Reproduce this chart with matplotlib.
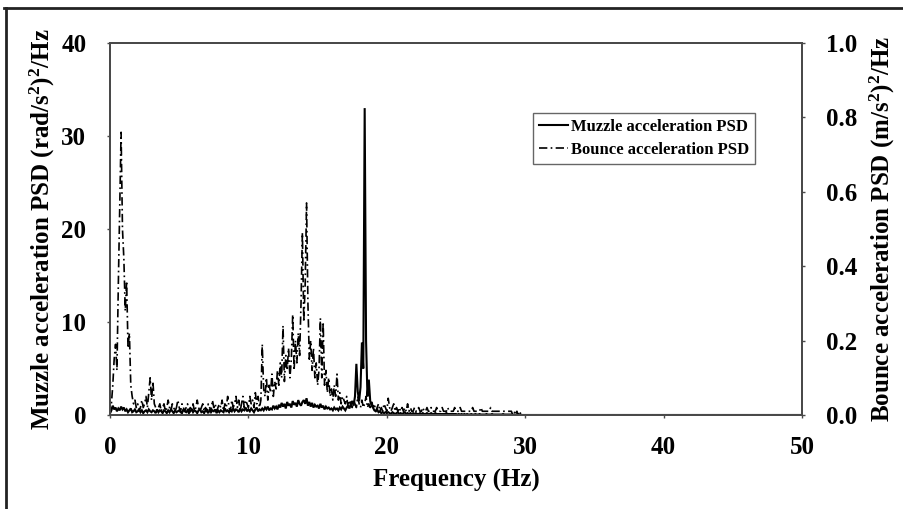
import numpy as np
import matplotlib
matplotlib.use("Agg")
import matplotlib.pyplot as plt
from matplotlib.lines import Line2D

# ---- data: PSD sampled every 0.1 Hz from 0 to 29.9 Hz (one row per Hz) ----
bounce_rows = [
    [0.00, 0.03, 0.08, 0.15, 0.19, 0.12, 0.35, 0.55, 0.76, 0.50],
    [0.42, 0.28, 0.36, 0.18, 0.22, 0.08, 0.05, 0.03, 0.04, 0.02],
    [0.03, 0.01, 0.02, 0.04, 0.02, 0.03, 0.05, 0.02, 0.06, 0.10],
    [0.04, 0.09, 0.03, 0.02, 0.01, 0.02, 0.03, 0.01, 0.02, 0.03],
    [0.01, 0.02, 0.04, 0.02, 0.01, 0.03, 0.02, 0.01, 0.02, 0.04],
    [0.02, 0.01, 0.03, 0.02, 0.01, 0.02, 0.03, 0.01, 0.02, 0.01],
    [0.03, 0.01, 0.02, 0.04, 0.02, 0.01, 0.02, 0.03, 0.01, 0.02],
    [0.01, 0.03, 0.02, 0.01, 0.04, 0.02, 0.03, 0.01, 0.02, 0.03],
    [0.02, 0.04, 0.01, 0.03, 0.02, 0.05, 0.02, 0.01, 0.04, 0.02],
    [0.03, 0.05, 0.02, 0.04, 0.01, 0.03, 0.05, 0.02, 0.04, 0.03],
    [0.02, 0.05, 0.03, 0.04, 0.02, 0.06, 0.03, 0.05, 0.02, 0.04],
    [0.19, 0.07, 0.05, 0.10, 0.04, 0.08, 0.06, 0.11, 0.05, 0.09],
    [0.07, 0.12, 0.08, 0.14, 0.10, 0.24, 0.09, 0.16, 0.12, 0.18],
    [0.10, 0.15, 0.27, 0.12, 0.20, 0.14, 0.22, 0.16, 0.30, 0.49],
    [0.25, 0.35, 0.57, 0.30, 0.15, 0.20, 0.12, 0.18, 0.10, 0.14],
    [0.08, 0.12, 0.26, 0.10, 0.25, 0.08, 0.12, 0.06, 0.10, 0.05],
    [0.07, 0.04, 0.08, 0.05, 0.11, 0.04, 0.06, 0.03, 0.05, 0.04],
    [0.03, 0.05, 0.02, 0.04, 0.03, 0.02, 0.04, 0.03, 0.02, 0.05],
    [0.03, 0.02, 0.04, 0.02, 0.03, 0.05, 0.02, 0.03, 0.02, 0.04],
    [0.02, 0.03, 0.01, 0.02, 0.03, 0.01, 0.02, 0.01, 0.03, 0.02],
    [0.01, 0.045, 0.02, 0.01, 0.02, 0.03, 0.01, 0.02, 0.01, 0.02],
    [0.01, 0.02, 0.01, 0.02, 0.01, 0.03, 0.01, 0.02, 0.01, 0.01],
    [0.02, 0.01, 0.01, 0.02, 0.01, 0.01, 0.02, 0.01, 0.01, 0.02],
    [0.01, 0.01, 0.02, 0.01, 0.01, 0.01, 0.02, 0.01, 0.01, 0.01],
    [0.02, 0.01, 0.01, 0.01, 0.02, 0.01, 0.01, 0.01, 0.01, 0.02],
    [0.01, 0.01, 0.01, 0.02, 0.01, 0.01, 0.01, 0.01, 0.01, 0.01],
    [0.01, 0.01, 0.02, 0.01, 0.01, 0.01, 0.01, 0.01, 0.02, 0.01],
    [0.01, 0.01, 0.01, 0.01, 0.01, 0.02, 0.01, 0.01, 0.01, 0.01],
    [0.01, 0.01, 0.01, 0.01, 0.01, 0.01, 0.01, 0.01, 0.01, 0.01],
    [0.01, 0.00, 0.01, 0.00, 0.01, 0.00, 0.01, 0.00, 0.00, 0.00],
]

muzzle_rows = [
    [0.2, 0.5, 1.0, 0.6, 0.8, 0.4, 0.7, 0.5, 0.9, 0.6],
    [0.8, 0.4, 0.6, 0.3, 0.5, 0.7, 0.3, 0.4, 0.6, 0.3],
    [0.4, 0.6, 0.3, 0.5, 0.2, 0.4, 0.5, 0.3, 0.6, 0.4],
    [0.3, 0.5, 0.4, 0.2, 0.6, 0.3, 0.5, 0.4, 0.2, 0.5],
    [0.4, 0.2, 0.5, 0.3, 0.6, 0.4, 0.2, 0.5, 0.3, 0.4],
    [0.5, 0.3, 0.2, 0.6, 0.4, 0.3, 0.5, 0.2, 0.4, 0.6],
    [0.3, 0.5, 0.4, 0.2, 0.5, 0.6, 0.3, 0.4, 0.2, 0.5],
    [0.4, 0.2, 0.6, 0.3, 0.5, 0.4, 0.6, 0.2, 0.5, 0.3],
    [0.5, 0.4, 0.3, 0.7, 0.4, 0.5, 0.3, 0.6, 0.4, 0.7],
    [0.4, 0.6, 0.5, 0.3, 0.7, 0.4, 0.6, 0.5, 0.8, 0.4],
    [0.6, 0.4, 0.7, 0.5, 0.3, 0.6, 0.8, 0.4, 0.6, 0.5],
    [0.7, 0.5, 0.8, 0.6, 0.9, 0.5, 0.7, 0.6, 1.0, 0.7],
    [0.9, 0.6, 1.1, 0.8, 1.3, 0.9, 1.2, 0.7, 1.4, 1.0],
    [1.2, 0.8, 1.5, 1.1, 1.3, 0.9, 1.6, 1.2, 1.0, 1.4],
    [1.6, 1.2, 1.8, 1.0, 1.4, 0.9, 1.3, 0.8, 1.1, 0.9],
    [1.0, 0.7, 1.2, 0.8, 1.0, 0.6, 0.9, 0.7, 0.8, 0.6],
    [0.7, 0.5, 0.8, 0.6, 0.7, 0.5, 0.8, 0.6, 0.9, 0.7],
    [0.5, 0.8, 1.0, 0.7, 1.2, 1.5, 1.0, 2.0, 5.5, 2.5],
    [1.5, 3.0, 7.8, 5.0, 33.0, 8.0, 2.0, 3.8, 1.5, 1.0],
    [0.8, 0.5, 0.4, 0.6, 0.3, 0.4, 0.2, 0.3, 0.2, 0.3],
    [0.2, 0.3, 0.2, 0.1, 0.3, 0.2, 0.1, 0.2, 0.3, 0.1],
    [0.2, 0.1, 0.2, 0.3, 0.1, 0.2, 0.1, 0.2, 0.1, 0.2],
    [0.1, 0.2, 0.1, 0.1, 0.2, 0.1, 0.2, 0.1, 0.1, 0.2],
    [0.1, 0.1, 0.2, 0.1, 0.1, 0.2, 0.1, 0.1, 0.1, 0.1],
    [0.1, 0.1, 0.1, 0.2, 0.1, 0.1, 0.1, 0.1, 0.1, 0.1],
    [0.1, 0.05, 0.1, 0.05, 0.1, 0.05, 0.1, 0.05, 0.1, 0.05],
    [0.05, 0.1, 0.05, 0.05, 0.1, 0.05, 0.05, 0.1, 0.05, 0.05],
    [0.05, 0.05, 0.1, 0.05, 0.05, 0.05, 0.1, 0.05, 0.05, 0.05],
    [0.05, 0.05, 0.05, 0.05, 0.1, 0.05, 0.05, 0.05, 0.05, 0.05],
    [0.05, 0.0, 0.05, 0.0, 0.05, 0.0, 0.0, 0.0, 0.0, 0.0],
]

freq_step = 0.1
freq_end = 50.0
x_ticks = [0, 10, 20, 30, 40, 50]
left_ticks = [0, 10, 20, 30, 40]
right_ticks = [0.0, 0.2, 0.4, 0.6, 0.8, 1.0]

bounce = np.concatenate([np.array(r) for r in bounce_rows] + [np.array([0.0])])
muzzle = np.concatenate([np.array(r) for r in muzzle_rows] + [np.array([0.0])])
freq = np.append(np.round(np.arange(len(bounce) - 1) * freq_step, 2), freq_end)

plt.rcParams['font.family'] = ['Liberation Serif', 'DejaVu Serif']
plt.rcParams['font.weight'] = 'bold'
plt.rcParams['mathtext.fontset'] = 'custom'
plt.rcParams['mathtext.rm'] = 'Liberation Serif:bold'
plt.rcParams['mathtext.it'] = 'Liberation Serif:bold'
plt.rcParams['mathtext.bf'] = 'Liberation Serif:bold'

fig = plt.figure(figsize=(9.04, 5.09), dpi=100)
ax = fig.add_axes([0.1217, 0.1847, 0.7655, 0.7308])
ax2 = ax.twinx()

frame_col = '#4a4a4a'
l1, = ax.plot(freq, muzzle, color='black', lw=1.5, solid_joinstyle='miter')
l2, = ax2.plot(freq, bounce, color='black', lw=1.2, linestyle=(0, (5, 2, 1, 2)))

ax.set_xlim(0, 50)
ax.set_ylim(0, 40)
ax2.set_ylim(0, 1.0)
ax.set_xticks(x_ticks)
ax.set_yticks(left_ticks)
ax2.set_yticks(right_ticks)
ax2.set_yticklabels([f"{v:.1f}" for v in right_ticks])

fs = 18
for a in (ax, ax2):
    for s in a.spines.values():
        s.set_color(frame_col)
        s.set_linewidth(1.4)
ax.tick_params(axis='x', labelsize=fs, length=2, width=1, color=frame_col, direction='out', pad=13)
ax.tick_params(axis='y', labelsize=fs, length=2, width=1, color=frame_col, direction='out', pad=15)
ax2.tick_params(axis='y', labelsize=fs, length=2, width=1, color=frame_col, direction='out', pad=15)

ax.set_xlabel("Frequency (Hz)", fontsize=fs, fontweight='bold', labelpad=7)
ax.set_ylabel(r"Muzzle acceleration PSD (rad/s$^2$)$^2$/Hz", fontsize=fs, fontweight='bold', labelpad=3)
ax2.set_ylabel(r"Bounce acceleration PSD (m/s$^2$)$^2$/Hz", fontsize=fs, fontweight='bold', labelpad=8)

leg = ax2.legend([l1, l2], ["Muzzle acceleration PSD", "Bounce acceleration PSD"],
                 loc='upper left', bbox_to_anchor=(0.611, 0.812), borderaxespad=0,
                 fontsize=12.0, fancybox=False, framealpha=1, edgecolor='#666666',
                 handlelength=1.75, handletextpad=0.2, borderpad=0.35, labelspacing=0.45)
leg.get_frame().set_linewidth(1.0)

# outer border (top and left edges of the original figure frame)
fig.add_artist(Line2D([4 / 904, 1.0], [1 - 8 / 509, 1 - 8 / 509], transform=fig.transFigure,
                      color='#222222', lw=2))
fig.add_artist(Line2D([6 / 904, 6 / 904], [0, 1 - 8 / 509], transform=fig.transFigure,
                      color='#222222', lw=2))

fig.savefig("out.png", dpi=100)
